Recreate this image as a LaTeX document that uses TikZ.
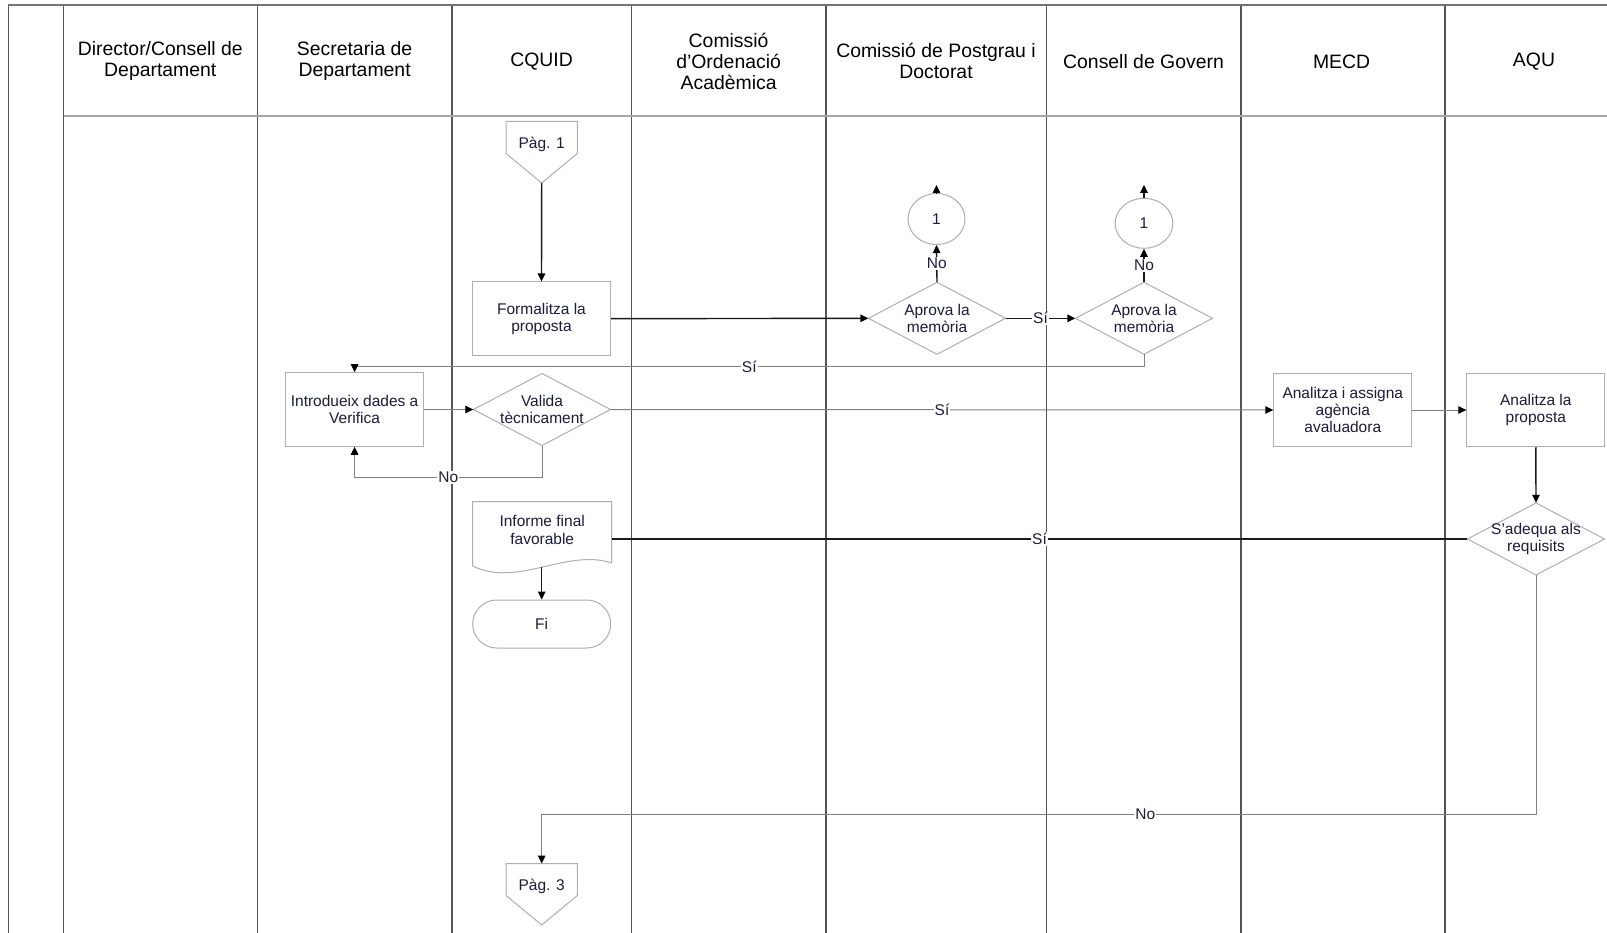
\documentclass[tikz,border=0pt]{standalone}
\usepackage{fontspec}
\setmainfont{Liberation Sans}
\usetikzlibrary{shapes.geometric,arrows.meta,calc}
\definecolor{ink}{RGB}{28,28,60}
\definecolor{lanec}{RGB}{85,85,85}
\definecolor{shpc}{RGB}{175,175,175}
\newcommand{\hdfont}{\fontsize{19.4}{21}\selectfont}
\newcommand{\ndfont}{\fontsize{15.5}{17.2}\selectfont}
\begin{document}
\begin{tikzpicture}[x=1pt,y=-1pt,
  lane/.style={draw=lanec,line width=1.3pt},
  hdr/.style={font=\hdfont,align=center,text=black,inner sep=0pt},
  shp/.style={draw=shpc,line width=1pt,fill=white},
  box/.style={shp,rectangle,minimum width=138pt,minimum height=73.5pt,font=\ndfont,text=ink,align=center,inner sep=0pt},
  dtext/.style={rectangle,minimum width=137pt,minimum height=72pt,font=\ndfont,text=ink,align=center,inner sep=0pt},
  circ/.style={shp,ellipse,minimum width=57pt,minimum height=51pt,font=\ndfont,text=ink,inner sep=0pt},
  term/.style={shp,rectangle,rounded corners=24pt,minimum width=138pt,minimum height=48pt,font=\ndfont,text=ink,inner sep=0pt},
  plain/.style={font=\ndfont,text=ink,align=center,inner sep=0pt},
  lbl/.style={font=\ndfont,text=ink,fill=white,inner sep=1pt},
  tip/.style={-{Triangle[length=8pt,width=7.5pt,color=black]}},
  dk/.style={draw=black!90,line width=1.4pt},
  lt/.style={draw=black!50,line width=1pt},
]
\useasboundingbox (0,0) rectangle (1607,933);
\fill[white] (0,0) rectangle (1607,933);

% lanes
\foreach \xx in {8.2,63.5,257.2,452,631.3,826,1046.4,1241.1,1445.1}
  \draw[lane] (\xx,5.1) -- (\xx,933);
\draw[draw=black!55,line width=2pt] (8.2,5.1) -- (1607,5.1);
\draw[draw=black!35,line width=2pt] (63.5,116) -- (1607,116);

% headers
\node[hdr] (h1) at (160.3,61) {Director/Consell de\\Departament};
\node[hdr] (h2) at (354.6,61) {Secretaria de\\Departament};
\node[hdr] (h3) at (541.6,61.5) {CQUID};
\node[hdr] (h4) at (728.6,61) {Comissió\\d'Ordenació\\Acadèmica};
\node[hdr] (h5) at (936,61) {Comissió de Postgrau i\\Doctorat};
\node[hdr] (h6) at (1143.5,61.5) {Consell de Govern};
\node[hdr] (h7) at (1341.6,61.5) {MECD};
\node[hdr] (h8) at (1534,61.5) {AQU};

% off-page connector Pag 1
\coordinate (p1c) at (541.7,144.5);
\draw[shp] ($(p1c)+(-35.6,-23)$) -- ($(p1c)+(35.6,-23)$) -- ($(p1c)+(35.6,9)$) -- ($(p1c)+(0,38.5)$) -- ($(p1c)+(-35.6,9)$) -- cycle;
\node[plain] (p1) at (p1c) {Pàg. 1};
\coordinate (p1tip) at ($(p1c)+(0,38.5)$);

% off-page connector Pag 3
\coordinate (p3c) at (541.7,886.5);
\draw[shp] ($(p3c)+(-35.6,-23)$) -- ($(p3c)+(35.6,-23)$) -- ($(p3c)+(35.6,9)$) -- ($(p3c)+(0,38.5)$) -- ($(p3c)+(-35.6,9)$) -- cycle;
\node[plain] (p3) at (p3c) {Pàg. 3};
\coordinate (p3top) at ($(p3c)+(0,-23)$);

% process nodes
\node[box] (form) at (541.5,318.7) {Formalitza la\\proposta};
\node[box] (intro) at (354.6,409.5) {Introdueix dades a\\Verifica};
\node[box] (ana) at (1342.8,410) {Analitza i assigna\\agència\\avaluadora};
\node[box] (anp) at (1535.8,410) {Analitza la\\proposta};

% decisions (diamond outline + text node whose anchors are the vertices)
\coordinate (ap1c) at (937,318.3);
\coordinate (ap2c) at (1144,318.3);
\coordinate (valc) at (542,409.5);
\coordinate (sadc) at (1536,539);
\foreach \cc in {ap1c,ap2c,valc,sadc}
  \draw[shp] ($(\cc)+(-68.5,0)$) -- ($(\cc)+(0,-36)$) -- ($(\cc)+(68.5,0)$) -- ($(\cc)+(0,36)$) -- cycle;
\node[dtext] (ap1) at (ap1c) {Aprova la\\memòria};
\node[dtext] (ap2) at (ap2c) {Aprova la\\memòria};
\node[dtext] (val) at (valc) {Valida\\tècnicament};
\node[dtext] (sad) at (sadc) {S'adequa als\\requisits};

\node[circ] (c1) at (936.5,219) {1};
\node[circ,minimum width=57.7pt,minimum height=50pt] (c2) at (1144,223.3) {1};

% document shape
\coordinate (infc) at (542.2,530);
\draw[shp] ($(infc)+(-69.5,-28.3)$) -- ($(infc)+(69.5,-28.3)$) -- ($(infc)+(69.5,33)$)
  .. controls ($(infc)+(25,18)$) and ($(infc)+(-25,58)$) .. ($(infc)+(-69.5,36)$) -- cycle;
\node[plain] (inf) at (infc) {Informe final\\favorable};
\coordinate (infE) at (611.7,539);
\coordinate (infB) at ($(infc)+(-0.5,37)$);

\node[term] (fi) at (541.7,624) {Fi};

% helper coordinates
\coordinate (s1) at (1144,366.7);
\coordinate (s2) at (354.6,366.7);
\coordinate (n1) at (542,477.7);
\coordinate (n2) at (354.6,477.7);
\coordinate (m1) at (1536,814.3);
\coordinate (m2) at (541.7,814.3);

% connectors
\draw[dk,tip] (p1tip) -- (form.north);
\draw[dk,tip] (form.east) -- (ap1.west);
\draw[dk,tip] (ap1.east) -- node[lbl]{Sí} (ap2.west);
\draw[dk,tip] (ap1.north) -- node[lbl]{No} (c1.south);
\draw[dk,tip] (ap2.north) -- node[lbl]{No} (c2.south);
\draw[dk,tip] (c1.north) -- ++(0,-8);
\draw[dk,tip] (c2.north) -- ++(0,-13);
\draw[lt,tip] (ap2.south) -- (s1) -- node[lbl]{Sí} (s2) -- (intro.north);
\draw[lt,tip] (intro.east) -- (val.west);
\draw[lt,tip] (val.south) -- (n1) -- node[lbl]{No} (n2) -- (intro.south);
\draw[lt,tip] (val.east) -- node[lbl]{Sí} (ana.west);
\draw[lt,tip] (ana.east) -- (anp.west);
\draw[dk,tip] (anp.south) -- (sad.north);
\draw[dk] (sad.west) -- node[lbl]{Sí} (infE);
\draw[dk,tip] (infB) -- (fi.north);
\draw[lt,tip] (sad.south) -- (m1) -- node[lbl,pos=0.393]{No} (m2) -- (p3top);
\end{tikzpicture}
\end{document}
